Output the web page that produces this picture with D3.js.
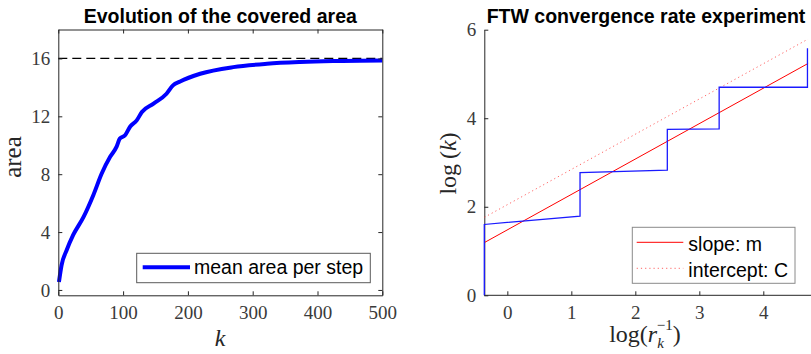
<!DOCTYPE html>
<html>
<head>
<meta charset="utf-8">
<script src="https://cdn.jsdelivr.net/npm/d3@7"></script>
<style>
  body { margin: 0; background: #fff; }
  svg { display: block; }
</style>
</head>
<body>
<svg id="chart" width="811" height="354"></svg>
<script>
// left panel: mean covered area per step
const kSteps = [1, 5, 13, 23, 39, 54, 67, 80, 90, 95, 103, 111, 121, 129, 147, 167, 177, 188, 219, 270, 322, 373, 424, 500];
const meanArea = [0.55, 1.7, 2.76, 3.8, 5.05, 6.55, 8.05, 9.2, 9.9, 10.46, 10.69, 11.3, 11.72, 12.3, 12.88, 13.56, 14.14, 14.41, 14.94, 15.4, 15.63, 15.75, 15.82, 15.86];
const areaLimit = 16;
const areaTicksX = [0, 100, 200, 300, 400, 500];
const areaTicksY = [0, 4, 8, 12, 16];

// right panel: FTW convergence
const logInvR = [-0.36, -0.36, 1.136, 1.136, 2.5, 2.5, 3.31, 3.31, 4.69, 4.69];
const logK = [0, 1.6, 1.79, 2.77, 2.83, 3.75, 3.76, 4.7, 4.7, 5.58];
const fitSlope = [0.8, 0.796];
const fitIntercept = [1.478, 2.047];
const fitNames = ["slope: m", "intercept: C"];
const rateTicksX = [0, 1, 2, 3, 4];
const rateTicksY = [0, 2, 4, 6];

const svg = d3.select("#chart");
const serif = "'Liberation Serif', 'DejaVu Serif', serif";
const sans = "'Liberation Sans', Arial, sans-serif";
const axisColor = "#262626";

function styleAxis(g) {
    g.select(".domain").attr("stroke", axisColor);
    g.selectAll(".tick line").attr("stroke", axisColor);
    g.selectAll(".tick text")
        .attr("fill", "#3a3a3a")
        .style("font-family", serif)
        .style("font-size", "19px");
}

// ---------- left panel ----------
const x1 = d3.scaleLinear().domain([0, 500]).range([58.3, 382.3]);
const y1 = d3.scaleLinear().domain([-0.37, 18]).range([295.3, 29.5]);

const left = svg.append("g");

left.append("line")
    .attr("x1", x1(0)).attr("x2", x1(500))
    .attr("y1", y1(areaLimit)).attr("y2", y1(areaLimit))
    .attr("stroke", "#000").attr("stroke-width", 1.2)
    .attr("stroke-dasharray", "9,5");

left.append("path")
    .datum(kSteps.map((k, i) => [k, meanArea[i]]))
    .attr("fill", "none")
    .attr("stroke", "#0000ff")
    .attr("stroke-width", 4)
    .attr("stroke-linejoin", "round")
    .attr("d", d3.line().x(d => x1(d[0])).y(d => y1(d[1])).curve(d3.curveMonotoneX));

left.append("g").attr("transform", `translate(0,${y1.range()[0]})`)
    .call(d3.axisBottom(x1).tickValues(areaTicksX).tickSizeInner(-4).tickSizeOuter(0).tickPadding(10))
    .call(styleAxis);
left.append("g").attr("transform", `translate(0,${y1.range()[1]})`)
    .call(d3.axisTop(x1).tickValues(areaTicksX).tickSizeInner(-4).tickSizeOuter(0).tickFormat(""))
    .call(styleAxis);
left.append("g").attr("transform", `translate(${x1.range()[0]},0)`)
    .call(d3.axisLeft(y1).tickValues(areaTicksY).tickSizeInner(-4).tickSizeOuter(0).tickPadding(8))
    .call(styleAxis);
left.append("g").attr("transform", `translate(${x1.range()[1]},0)`)
    .call(d3.axisRight(y1).tickValues(areaTicksY).tickSizeInner(-4).tickSizeOuter(0).tickFormat(""))
    .call(styleAxis);

left.append("text")
    .attr("x", 220.3).attr("y", 22.7)
    .attr("text-anchor", "middle")
    .style("font-family", sans).style("font-weight", "bold").style("font-size", "19.5px")
    .text("Evolution of the covered area");

left.append("text")
    .attr("transform", "translate(20.5,157) rotate(-90)")
    .attr("text-anchor", "middle")
    .attr("fill", "#262626")
    .style("font-family", serif).style("font-size", "25px")
    .text("area");

left.append("text")
    .attr("x", 220).attr("y", 346)
    .attr("text-anchor", "middle")
    .attr("fill", "#262626")
    .style("font-family", serif).style("font-style", "italic").style("font-size", "24px")
    .text("k");

const leg1 = left.append("g");
leg1.append("rect")
    .attr("x", 136.7).attr("y", 253.3).attr("width", 233.6).attr("height", 29.4)
    .attr("fill", "#fff").attr("stroke", "#5a5a5a").attr("stroke-width", 1);
leg1.append("line")
    .attr("x1", 142.7).attr("x2", 190).attr("y1", 267.3).attr("y2", 267.3)
    .attr("stroke", "#0000ff").attr("stroke-width", 4);
leg1.append("text")
    .attr("x", 194).attr("y", 274)
    .style("font-family", sans).style("font-size", "19.5px")
    .text("mean area per step");

// ---------- right panel ----------
const x2 = d3.scaleLinear().domain([-0.36, 4.7]).range([484.3, 808.1]);
const y2 = d3.scaleLinear().domain([0, 6]).range([295.3, 29.7]);

const right = svg.append("g");

right.append("g").attr("transform", `translate(0,${y2.range()[0]})`)
    .call(d3.axisBottom(x2).tickValues(rateTicksX).tickFormat(d3.format("d")).tickSizeInner(-4).tickSizeOuter(0).tickPadding(10))
    .call(styleAxis)
    .select(".domain").attr("d", `M${x2.range()[0]},0H811`);
right.append("g").attr("transform", `translate(${x2.range()[0]},0)`)
    .call(d3.axisLeft(y2).tickValues(rateTicksY).tickFormat(d3.format("d")).tickSizeInner(-4).tickSizeOuter(0).tickPadding(8))
    .call(styleAxis);

const fitStyles = [
    { color: "#ff0000", dash: null, opacity: 1 },
    { color: "#ff3030", dash: "1.2,3", opacity: 0.75 }
];

fitSlope.forEach((m, i) => {
    const xd = x2.domain();
    right.append("line")
        .attr("x1", x2(xd[0])).attr("y1", y2(fitIntercept[i] + m * xd[0]))
        .attr("x2", x2(xd[1])).attr("y2", y2(fitIntercept[i] + m * xd[1]))
        .attr("stroke", fitStyles[i].color)
        .attr("stroke-opacity", fitStyles[i].opacity)
        .attr("stroke-width", 1)
        .attr("stroke-dasharray", fitStyles[i].dash);
});

right.append("path")
    .datum(logInvR.map((v, i) => [v, logK[i]]))
    .attr("fill", "none")
    .attr("stroke", "#1a1aff")
    .attr("stroke-width", 1.3)
    .attr("d", d3.line().x(d => x2(d[0])).y(d => y2(d[1])));

right.append("text")
    .attr("x", 646).attr("y", 22.7)
    .attr("text-anchor", "middle")
    .style("font-family", sans).style("font-weight", "bold").style("font-size", "19.5px")
    .text("FTW convergence rate experiment");

const yl = right.append("text")
    .attr("transform", "translate(455.5,163.5) rotate(-90)")
    .attr("text-anchor", "middle")
    .attr("fill", "#262626")
    .style("font-family", serif).style("font-size", "24px");
yl.append("tspan").text("log\u2009(");
yl.append("tspan").style("font-style", "italic").text("k");
yl.append("tspan").text(")");

// x label: log(r_k^{-1}) with stacked sub/superscript
const xl = right.append("text")
    .attr("x", 645).attr("y", 342)
    .attr("text-anchor", "middle")
    .attr("fill", "#262626")
    .style("font-family", serif).style("font-size", "24px");
xl.append("tspan").text("log(");
xl.append("tspan").style("font-style", "italic").text("r");
xl.append("tspan").attr("dy", 6).style("font-style", "italic").style("font-size", "15px").text("k");
xl.append("tspan").attr("dx", -7).attr("dy", -18).style("font-size", "15px").text("\u22121");
xl.append("tspan").attr("dy", 12).text(")");

const leg2 = right.append("g");
leg2.append("rect")
    .attr("x", 632.3).attr("y", 227.3).attr("width", 162.7).attr("height", 56)
    .attr("fill", "#fff").attr("stroke", "#8a8a8a").attr("stroke-width", 1);
fitNames.forEach((name, i) => {
    const ly = 242.3 + i * 26;
    leg2.append("line")
        .attr("x1", 636.7).attr("x2", 683.3).attr("y1", ly).attr("y2", ly)
        .attr("stroke", fitStyles[i].color)
        .attr("stroke-opacity", fitStyles[i].opacity)
        .attr("stroke-dasharray", fitStyles[i].dash);
    leg2.append("text")
        .attr("x", 688.3).attr("y", ly + 8.4)
        .style("font-family", sans).style("font-size", "19.5px")
        .text(name);
});
</script>
</body>
</html>
